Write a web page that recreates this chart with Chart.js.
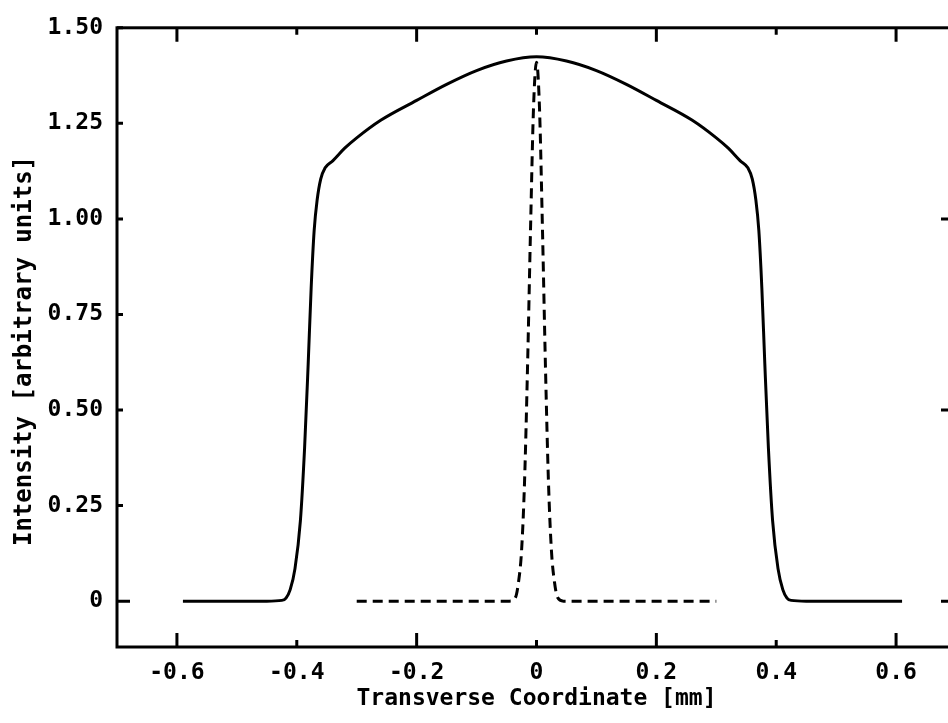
<!DOCTYPE html>
<html>
<head>
<meta charset="utf-8">
<script src="https://cdn.jsdelivr.net/npm/chart.js@4"></script>
<style>
  html, body { margin: 0; padding: 0; background: #fff; overflow: hidden; }
  #wrap { width: 962px; height: 723px; }
</style>
</head>
<body>
<div id="wrap"><canvas id="chart" width="962" height="723"></canvas></div>
<script>
// beam profile (solid) and narrow reference peak (dashed)
const solidX = [-0.59, -0.45, -0.425, -0.418, -0.411, -0.403, -0.394, -0.387, -0.381, -0.376, -0.371, -0.366, -0.36, -0.353, -0.34, -0.32, -0.30, -0.26, -0.20, -0.15, -0.10, -0.05, 0,
  0.05, 0.10, 0.15, 0.20, 0.26, 0.30, 0.32, 0.34, 0.353, 0.36, 0.366, 0.371, 0.376, 0.381, 0.387, 0.394, 0.403, 0.411, 0.418, 0.425, 0.45, 0.61];
const solidY = [0, 0, 0.002, 0.008, 0.03, 0.085, 0.21, 0.40, 0.62, 0.82, 0.97, 1.05, 1.105, 1.133, 1.152, 1.185, 1.212, 1.258, 1.31, 1.352, 1.388, 1.413, 1.424,
  1.413, 1.388, 1.352, 1.31, 1.258, 1.212, 1.185, 1.152, 1.133, 1.105, 1.05, 0.97, 0.82, 0.62, 0.40, 0.21, 0.085, 0.03, 0.008, 0.002, 0, 0];

const dashX = [-0.30, -0.045, -0.035, -0.03, -0.025, -0.02, -0.015, -0.01, -0.005, 0, 0.005, 0.01, 0.015, 0.02, 0.025, 0.03, 0.035, 0.045, 0.30];
const dashY = [0, 0, 0.01, 0.05, 0.13, 0.31, 0.61, 0.97, 1.29, 1.41, 1.29, 0.97, 0.61, 0.31, 0.13, 0.05, 0.01, 0, 0];

const xTicks = [-0.6, -0.4, -0.2, 0, 0.2, 0.4, 0.6];
const xTickLabels = ["-0.6", "-0.4", "-0.2", "0", "0.2", "0.4", "0.6"];
const yTicks = [0, 0.25, 0.5, 0.75, 1.0, 1.25, 1.5];
const yTickLabels = ["0", "0.25", "0.50", "0.75", "1.00", "1.25", "1.50"];
const yTitle = "Intensity [arbitrary units]";

const xLong = [-0.6, -0.2, 0.2, 0.6];
const yLongLeft = [0];
const yLongRight = [0, 0.5, 1.0];

const toPoints = (xs, ys) => xs.map((x, i) => ({ x: x, y: ys[i] }));
const fontFamily = "'DejaVu Sans Mono', monospace";
const font = { family: fontFamily, size: 23, weight: "bold" };

// frame + inward tick marks on all four sides, plus the y title
const framePlugin = {
  id: "frame",
  afterDraw(chart) {
    const { ctx, chartArea: a, scales } = chart;
    const sx = scales.x, sy = scales.y;
    ctx.save();
    ctx.strokeStyle = "#000";
    ctx.lineWidth = 3;
    ctx.strokeRect(a.left, a.top, a.right - a.left, a.bottom - a.top);
    ctx.beginPath();
    xTicks.forEach((v) => {
      const px = sx.getPixelForValue(v);
      const len = xLong.includes(v) ? 14 : 7;
      ctx.moveTo(px, a.bottom); ctx.lineTo(px, a.bottom - len);
      ctx.moveTo(px, a.top); ctx.lineTo(px, a.top + len);
    });
    yTicks.forEach((v) => {
      const py = sy.getPixelForValue(v);
      const l1 = yLongLeft.includes(v) ? 13 : 6;
      const l2 = yLongRight.includes(v) ? 15 : 7;
      ctx.moveTo(a.left, py); ctx.lineTo(a.left + l1, py);
      ctx.moveTo(a.right, py); ctx.lineTo(a.right - l2, py);
    });
    ctx.stroke();

    // y title sits a little below the middle of the axis in the original
    ctx.translate(25, 351);
    ctx.rotate(-Math.PI / 2);
    ctx.fillStyle = "#000";
    ctx.font = "bold 24px " + fontFamily;
    ctx.textAlign = "center";
    ctx.textBaseline = "middle";
    ctx.fillText(yTitle, 0, 0);
    ctx.restore();
  },
};

new Chart(document.getElementById("chart"), {
  type: "scatter",
  data: {
    datasets: [
      {
        label: "profile",
        data: toPoints(solidX, solidY),
        showLine: true,
        borderColor: "#000",
        borderWidth: 3,
        pointRadius: 0,
        cubicInterpolationMode: "monotone",
      },
      {
        label: "reference",
        data: toPoints(dashX, dashY),
        showLine: true,
        borderColor: "#000",
        borderWidth: 3,
        borderDash: [10, 6],
        pointRadius: 0,
        cubicInterpolationMode: "monotone",
      },
    ],
  },
  options: {
    responsive: false,
    animation: false,
    layout: { padding: { top: 24, right: 6, left: 0, bottom: 0 } },
    plugins: { legend: { display: false }, tooltip: { enabled: false } },
    scales: {
      x: {
        type: "linear",
        min: -0.7,
        max: 0.7,
        grid: { display: false, drawTicks: false },
        border: { display: false },
        afterBuildTicks: (s) => { s.ticks = xTicks.map((v) => ({ value: v })); },
        afterFit: (s) => { s.height = 76; },
        ticks: {
          color: "#000",
          font: font,
          padding: 12,
          maxRotation: 0,
          callback: (v) => xTickLabels[xTicks.indexOf(v)],
        },
        title: {
          display: true,
          text: "Transverse Coordinate [mm]",
          color: "#000",
          font: font,
          padding: { top: 0, bottom: 10 },
        },
      },
      y: {
        type: "linear",
        min: -0.12,
        max: 1.5,
        grid: { display: false, drawTicks: false },
        border: { display: false },
        afterBuildTicks: (s) => { s.ticks = yTicks.map((v) => ({ value: v })); },
        afterFit: (s) => { s.width = 117; },
        ticks: {
          color: "#000",
          font: font,
          padding: 14,
          callback: (v) => yTickLabels[yTicks.indexOf(v)],
        },
      },
    },
  },
  plugins: [framePlugin],
});
</script>
</body>
</html>
